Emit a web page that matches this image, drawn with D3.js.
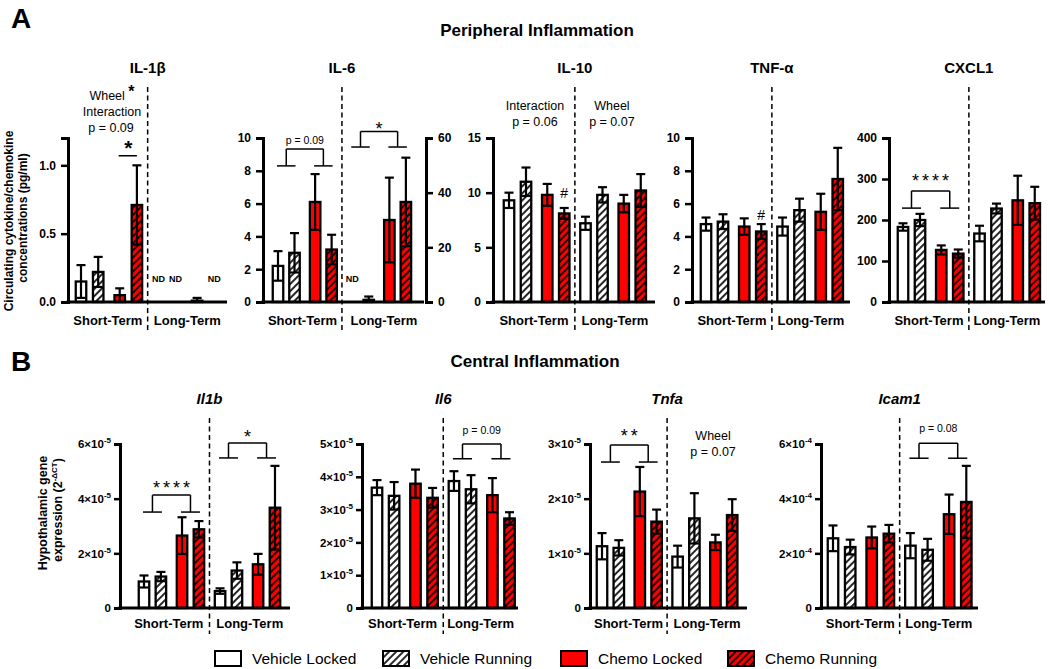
<!DOCTYPE html>
<html><head><meta charset="utf-8">
<script src="https://cdn.jsdelivr.net/npm/d3@7"></script>
<style>
body{margin:0;background:#fff;}
svg text{font-family:"Liberation Sans",Arial,Helvetica,sans-serif;fill:#000;}
</style></head><body>
<svg id="chart" width="1050" height="669"></svg>
<script>
// ---------------- DATA ----------------
const groupNames = ["Vehicle Locked","Vehicle Running","Chemo Locked","Chemo Running"];
const termNames = ["Short-Term","Long-Term"];
const periphTitles = ["IL-1β","IL-6","IL-10","TNF-α","CXCL1"];
const centralTitles = ["Il1b","Il6","Tnfa","Icam1"];
// order: short VL, VR, CL, CR, long VL, VR, CL, CR ; null = ND
const il1bMean = [0.15,0.22,0.05,0.71, null,null,0.01,null];
const il1bErr  = [0.12,0.11,0.05,0.29, null,null,0.02,null];
const il6Mean  = [2.2,3.0,6.1,3.2, null,0.8,30,36.6];   // long-term on right axis (0-60)
const il6Err   = [0.9,1.2,1.7,0.9, null,1.2,15.5,16.2];
const il10Mean = [9.3,11.0,9.8,8.1, 7.2,9.8,9.0,10.2];
const il10Err  = [0.7,1.3,1.0,0.5, 0.6,0.7,0.8,1.5];
const tnfMean  = [4.75,4.9,4.6,4.3, 4.6,5.6,5.5,7.5];
const tnfErr   = [0.4,0.45,0.5,0.45, 0.55,0.7,1.1,1.9];
const cxcl1Mean= [183,200,127,118, 167,228,248,241];
const cxcl1Err = [9,15,11,10, 19,12,60,40];

const il1bGeneMean = [0.97e-5,1.15e-5,2.65e-5,2.88e-5, 0.62e-5,1.37e-5,1.6e-5,3.67e-5];
const il1bGeneErr  = [0.22e-5,0.17e-5,0.67e-5,0.3e-5, 0.1e-5,0.3e-5,0.38e-5,1.53e-5];
const il6GeneMean  = [3.67e-5,3.42e-5,3.79e-5,3.36e-5, 3.87e-5,3.62e-5,3.44e-5,2.73e-5];
const il6GeneErr   = [0.23e-5,0.42e-5,0.43e-5,0.3e-5, 0.3e-5,0.43e-5,0.52e-5,0.19e-5];
const tnfaGeneMean = [1.13e-5,1.1e-5,2.13e-5,1.58e-5, 0.94e-5,1.64e-5,1.2e-5,1.7e-5];
const tnfaGeneErr  = [0.24e-5,0.14e-5,0.45e-5,0.22e-5, 0.2e-5,0.46e-5,0.14e-5,0.29e-5];
const icam1Mean    = [2.55e-4,2.23e-4,2.58e-4,2.72e-4, 2.28e-4,2.13e-4,3.43e-4,3.88e-4];
const icam1Err     = [0.47e-4,0.27e-4,0.4e-4,0.32e-4, 0.46e-4,0.4e-4,0.72e-4,1.32e-4];

const il1bTicks = [0,0.5,1.0];
const il6Ticks = [0,2,4,6,8,10];
const il6RightTicks = [0,20,40,60];
const il10Ticks = [0,5,10,15];
const tnfTicks = [0,2,4,6,8,10];
const cxcl1Ticks = [0,100,200,300,400];
const il1bGeneTicks = [0,2e-5,4e-5,6e-5];
const il6GeneTicks = [0,1e-5,2e-5,3e-5,4e-5,5e-5];
const tnfaGeneTicks = [0,1e-5,2e-5,3e-5];
const icam1Ticks = [0,2e-4,4e-4,6e-4];

// ---------------- LAYOUT ----------------
const svg = d3.select("#chart");
const slotPos = [0,1,2.25,3.25,4.5,5.5,6.75,7.75];
const RED = "#ff0000";
const defs = svg.append("defs");
function hatch(id, bg){
  const p = defs.append("pattern").attr("id",id).attr("patternUnits","userSpaceOnUse")
    .attr("width",5).attr("height",5).attr("patternTransform","rotate(45)");
  p.append("rect").attr("width",5).attr("height",5).attr("fill",bg);
  p.append("line").attr("x1",1).attr("y1",0).attr("x2",1).attr("y2",5).attr("stroke","#000").attr("stroke-width",1.7);
}
hatch("hatchW","#fff"); hatch("hatchR",RED);
const fills = ["#fff","url(#hatchW)",RED,"url(#hatchR)"];

const A = {base:302, top:138, dashTop:87, dashBot:333, termY:325};
const B = {base:608, top:444, dashTop:418, dashBot:634, termY:628};

const panels = [
  {P:A, title:periphTitles[0], axisX:68, slot0:81, unit:17.2, endX:227, max:1.2, ticks:il1bTicks, fmt:d3.format(".1f"), mean:il1bMean, err:il1bErr},
  {P:A, title:periphTitles[1], axisX:263, slot0:278, unit:16.5, endX:424, max:10, ticks:il6Ticks, fmt:d3.format("d"), mean:il6Mean, err:il6Err, rightMax:60, rightTicks:il6RightTicks, rightX:426},
  {P:A, title:periphTitles[2], axisX:493, slot0:509, unit:17, endX:655, max:15, ticks:il10Ticks, fmt:d3.format("d"), mean:il10Mean, err:il10Err},
  {P:A, title:periphTitles[3], axisX:692, slot0:706, unit:17, endX:850, max:10, ticks:tnfTicks, fmt:d3.format("d"), mean:tnfMean, err:tnfErr},
  {P:A, title:periphTitles[4], axisX:889, slot0:903, unit:17, endX:1045, max:400, ticks:cxcl1Ticks, fmt:d3.format("d"), mean:cxcl1Mean, err:cxcl1Err},
  {P:B, title:centralTitles[0], italic:true, axisX:120, slot0:144, unit:16.9, endX:290, max:6e-5, ticks:il1bGeneTicks, sci:true, mean:il1bGeneMean, err:il1bGeneErr},
  {P:B, title:centralTitles[1], italic:true, axisX:362, slot0:377, unit:17.1, endX:518, max:5e-5, ticks:il6GeneTicks, sci:true, mean:il6GeneMean, err:il6GeneErr},
  {P:B, title:centralTitles[2], italic:true, axisX:590, slot0:602, unit:16.8, endX:747, max:3e-5, ticks:tnfaGeneTicks, sci:true, mean:tnfaGeneMean, err:tnfaGeneErr},
  {P:B, title:centralTitles[3], italic:true, axisX:821, slot0:833, unit:17.2, endX:978, max:6e-4, ticks:icam1Ticks, sci:true, mean:icam1Mean, err:icam1Err},
];

const BW = 10.5, CAP = 4.5;

function sciLabel(sel){
  sel.each(function(d){
    const t = d3.select(this); t.text(null);
    if(d===0){ t.text("0"); return; }
    const exp = Math.floor(Math.log10(d)+1e-9);
    const mant = Math.round(d/Math.pow(10,exp));
    t.append("tspan").text(mant+"×10");
    t.append("tspan").attr("dy",-5).attr("font-size",8).text("-"+(-exp));
  });
}

panels.forEach(cfg=>{
  const P = cfg.P;
  const g = svg.append("g");
  const y = d3.scaleLinear().domain([0,cfg.max]).range([P.base,P.top]);
  const x = d3.scaleLinear().domain([0,1]).range([cfg.slot0, cfg.slot0+cfg.unit]);
  cfg.x = x; cfg.y = y;
  let yR = null;
  if(cfg.rightMax){ yR = d3.scaleLinear().domain([0,cfg.rightMax]).range([P.base,P.top]); cfg.yR=yR; }
  const dashX = x(3.875);
  cfg.dashX = dashX;

  // dashed divider
  g.append("line").attr("x1",dashX).attr("x2",dashX).attr("y1",P.dashTop).attr("y2",P.dashBot)
    .attr("stroke","#000").attr("stroke-width",1.5).attr("stroke-dasharray","5,3.5");

  // bars
  cfg.mean.forEach((v,i)=>{
    const cx = x(slotPos[i]);
    const ys = (yR && i>=4) ? yR : y;
    if(v==null){
      g.append("text").attr("x",cx).attr("y",P.base-20).attr("text-anchor","middle")
        .attr("font-size",9).attr("font-weight","bold").text("ND");
      return;
    }
    g.append("rect").attr("x",cx-BW/2).attr("y",ys(v)).attr("width",BW).attr("height",ys(0)-ys(v))
      .attr("fill",fills[i%4]).attr("stroke","#000").attr("stroke-width",2.3);
    const e = cfg.err[i];
    const lo = Math.max(0,v-e), hi = v+e;
    g.append("line").attr("x1",cx).attr("x2",cx).attr("y1",ys(lo)).attr("y2",ys(hi)).attr("stroke","#000").attr("stroke-width",2.2);
    g.append("line").attr("x1",cx-CAP).attr("x2",cx+CAP).attr("y1",ys(hi)).attr("y2",ys(hi)).attr("stroke","#000").attr("stroke-width",2.2);
    if(lo>0) g.append("line").attr("x1",cx-CAP).attr("x2",cx+CAP).attr("y1",ys(lo)).attr("y2",ys(lo)).attr("stroke","#000").attr("stroke-width",2.2);
  });

  // axes
  const ax = d3.axisLeft(y).tickValues(cfg.ticks).tickSizeOuter(0).tickSize(cfg.sci?6:7).tickPadding(cfg.sci?3:5);
  if(!cfg.sci) ax.tickFormat(cfg.fmt);
  const ag = g.append("g").attr("transform",`translate(${cfg.axisX},0)`).call(ax);
  ag.select(".domain").attr("stroke","#000").attr("stroke-width",3);
  ag.selectAll(".tick line").attr("stroke","#000").attr("stroke-width",2.5);
  ag.selectAll(".tick text").attr("font-size",cfg.sci?11.5:12).attr("font-weight","bold")
    .attr("font-family","Liberation Sans, Arial, sans-serif");
  if(cfg.sci) sciLabel(ag.selectAll(".tick text"));
  if(yR){
    const axr = d3.axisRight(yR).tickValues(cfg.rightTicks).tickSizeOuter(0).tickSize(7).tickPadding(5).tickFormat(d3.format("d"));
    const rg = g.append("g").attr("transform",`translate(${cfg.rightX},0)`).call(axr);
    rg.select(".domain").attr("stroke","#000").attr("stroke-width",3);
    rg.selectAll(".tick line").attr("stroke","#000").attr("stroke-width",2.5);
    rg.selectAll(".tick text").attr("font-size",12).attr("font-weight","bold").attr("font-family","Liberation Sans, Arial, sans-serif");
  }
  // x baseline
  g.append("line").attr("x1",cfg.axisX-1.5).attr("x2",cfg.endX).attr("y1",P.base).attr("y2",P.base)
    .attr("stroke","#000").attr("stroke-width",3);

  // term labels
  const endX = cfg.rightX || cfg.endX;
  g.append("text").attr("x",(cfg.axisX+dashX)/2 + (cfg.title==="Il1b"?4:0)).attr("y",P.termY).attr("text-anchor","middle")
    .attr("font-size",13).attr("font-weight","bold").text(termNames[0]);
  g.append("text").attr("x",(dashX+endX)/2).attr("y",P.termY).attr("text-anchor","middle")
    .attr("font-size",13).attr("font-weight","bold").text(termNames[1]);

  // title
  g.append("text").attr("x",dashX).attr("y",P===A?73:404).attr("text-anchor","middle")
    .attr("font-size",15).attr("font-weight","bold").attr("font-style",cfg.italic?"italic":"normal").text(cfg.title);
});

// ---------------- ANNOTATIONS ----------------
function bracket(cfg, sL, sR, footV, topV, label, opt){
  const x=cfg.x, y=cfg.y;
  const g = svg.append("g").attr("stroke","#000").attr("stroke-width",1.5);
  const fy=y(footV), ty=y(topV);
  const mL=(x(sL[0])+x(sL[1]))/2, mR=(x(sR[0])+x(sR[1]))/2;
  [[x(sL[0]),x(sL[1])],[x(sR[0]),x(sR[1])]].forEach(f=>g.append("line").attr("x1",f[0]-1).attr("x2",f[1]+1).attr("y1",fy).attr("y2",fy));
  g.append("line").attr("x1",mL).attr("x2",mL).attr("y1",fy).attr("y2",ty);
  g.append("line").attr("x1",mR).attr("x2",mR).attr("y1",fy).attr("y2",ty);
  g.append("line").attr("x1",mL).attr("x2",mR).attr("y1",ty).attr("y2",ty);
  const t = svg.append("text").attr("x",(mL+mR)/2).attr("y",ty+opt.dy).attr("text-anchor","middle")
    .attr("font-size",opt.size).text(label);
  if(opt.star) t.attr("letter-spacing",3).attr("dx",1.5);
}
function note(x,yb,lines,size){
  lines.forEach((s,i)=>svg.append("text").attr("x",x).attr("y",yb+i*15.5).attr("text-anchor","middle").attr("font-size",size).text(s));
}
const [pIL1b,pIL6,pIL10,pTNF,pCX,pG1,pG6,pGT,pGI] = panels;

// IL-1β
{
  const t = svg.append("text").attr("x",112).attr("y",100).attr("text-anchor","middle").attr("font-size",12.5);
  t.append("tspan").text("Wheel ");
  t.append("tspan").attr("dy",-3).attr("font-size",16).attr("font-weight","bold").text("*");
  note(112,116,["Interaction"],12.5);
  note(111,131.5,["p = 0.09"],12.5);
  const x=pIL1b.x, y=pIL1b.y;
  const ly=y(1.07);
  svg.append("line").attr("x1",x(2.25)-1).attr("x2",x(3.25)).attr("y1",ly).attr("y2",ly).attr("stroke","#000").attr("stroke-width",1.5);
  svg.append("text").attr("x",(x(2.25)+x(3.25))/2).attr("y",ly-1).attr("text-anchor","middle").attr("font-size",21).attr("font-weight","bold").text("*");
}
// IL-6
bracket(pIL6,[0,1],[2.25,3.25],8.3,9.33,"p = 0.09",{dy:-5,size:10.5});
bracket(pIL6,[4.5,5.5],[6.75,7.75],9.45,10.4,"*",{dy:4,size:18});
// IL-10
note((pIL10.axisX+pIL10.dashX)/2+1,110,["Interaction","p = 0.06"],12.5);
note((pIL10.dashX+pIL10.endX)/2-3,110,["Wheel","p = 0.07"],12.5);
svg.append("text").attr("x",pIL10.x(3.25)).attr("y",pIL10.y(9.5)).attr("text-anchor","middle").attr("font-size",14).text("#");
// TNF-α
svg.append("text").attr("x",pTNF.x(3.25)).attr("y",pTNF.y(5.0)).attr("text-anchor","middle").attr("font-size",14).text("#");
// CXCL1
bracket(pCX,[0,1],[2.25,3.25],229,271,"****",{dy:-4,size:18,star:true});
// Il1b gene
bracket(pG1,[0,1],[2.25,3.25],3.51e-5,4.13e-5,"****",{dy:-1,size:18,star:true});
bracket(pG1,[4.5,5.5],[6.75,7.75],5.49e-5,6.04e-5,"*",{dy:0,size:18});
// Il6 gene
bracket(pG6,[4.5,5.5],[6.75,7.75],4.55e-5,5.0e-5,"p = 0.09",{dy:-10,size:10.5});
// Tnfa gene
bracket(pGT,[0,1],[2.25,3.25],2.67e-5,2.98e-5,"**",{dy:-3,size:18,star:true});
note((pGT.dashX+pGT.endX)/2+6,440,["Wheel","p = 0.07"],12.5);
// Icam1
bracket(pGI,[4.5,5.5],[6.75,7.75],5.48e-4,6.03e-4,"p = 0.08",{dy:-11,size:10.5});

// ---------------- TITLES & LABELS ----------------
svg.append("text").attr("x",11).attr("y",28).attr("font-size",28).attr("font-weight","bold").text("A");
svg.append("text").attr("x",11).attr("y",371).attr("font-size",28).attr("font-weight","bold").text("B");
svg.append("text").attr("x",537).attr("y",36).attr("text-anchor","middle").attr("font-size",17).attr("font-weight","bold").text("Peripheral Inflammation");
svg.append("text").attr("x",535).attr("y",367).attr("text-anchor","middle").attr("font-size",17).attr("font-weight","bold").text("Central Inflammation");

svg.append("text").attr("transform","translate(13,221) rotate(-90)").attr("text-anchor","middle").attr("font-size",12).attr("font-weight","bold").text("Circulating cytokine/chemokine");
svg.append("text").attr("transform","translate(27,218) rotate(-90)").attr("text-anchor","middle").attr("font-size",12).attr("font-weight","bold").text("concentrations (pg/ml)");
svg.append("text").attr("transform","translate(47,513) rotate(-90)").attr("text-anchor","middle").attr("font-size",12.5).attr("font-weight","bold").text("Hypothalamic gene");
{
  const t = svg.append("text").attr("transform","translate(62,510) rotate(-90)").attr("text-anchor","middle").attr("font-size",12.5).attr("font-weight","bold");
  t.append("tspan").text("expression (2");
  t.append("tspan").attr("dy",-5).attr("font-size",8).text("-ΔCT");
  t.append("tspan").attr("dy",5).text(")");
}

// ---------------- LEGEND ----------------
const legX = [215,383,561,728];
groupNames.forEach((n,i)=>{
  svg.append("rect").attr("x",legX[i]).attr("y",651).attr("width",26).attr("height",15)
    .attr("fill",fills[i]).attr("stroke","#000").attr("stroke-width",2);
  svg.append("text").attr("x",legX[i]+37).attr("y",664).attr("font-size",15.5).text(n);
});
</script>
</body></html>
